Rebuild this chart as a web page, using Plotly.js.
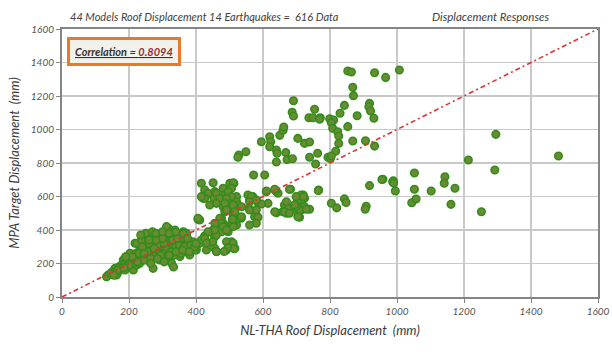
<!DOCTYPE html>
<html>
<head>
<meta charset="utf-8">
<script src="https://cdn.plot.ly/plotly-3.0.1.min.js"></script>
<style>html,body{margin:0;padding:0;background:#fff;}#chart{width:612px;height:354px;}</style>
</head>
<body>
<div id="chart"></div>
<script>
// NL-THA roof displacement (mm)
const nlthaX = [
853,864,933,966,1007,868,870,691,687,691,754,737,749,771,769,843,830,881,918,916,921,931,799,811,804,808,823,826,853,826,868,906,933,
704,724,739,763,739,794,801,817,804,757,668,672,688,650,660,662,595,620,623,620,640,642,640,528,525,549,572,605,
766,918,958,989,995,987,804,820,843,848,908,905,765,682,
1052,1052,1102,1143,1141,1173,1044,1057,1161,1252,1213,1292,1295,1482,955,990,
720,724,714,724,739,714,709,700,704,704,709,714,721,729,704,699,699,
521,555,570,560,585,580,575,615,640,659,664,670,694,679,674,670,664,679,
501,513,610,640,645,416,451,426,431,421,456,453,481,486,476,491,511,506,501,
481,486,491,521,525,565,560,558,595,610,638,635,585,580,560,535,511,509,521,511,
476,471,481,491,461,451,476,496,406,426,456,635,516,536,510,506,510,506,
436,461,496,506,471,491,426,441,461,486,491,511,516,536,580,580,560,
471,476,456,451,461,481,491,511,509,426,431,456,461,491,491,511,516,
496,514,461,484,444,391,426,450,456,416,
138,133,158,168,163,178,183,188,198,193,203,208,213,218,218,213,223,232,237,232,242,242,252,257,257,262,267,272,272,277,282,287,287,292,297,302,307,312,317,317,322,327,337,332,342,347,352,357,362,367,372,377,362,381,387,391,401,401,411,416,426,431,411,436,
327,333,396,372,362,357,312,337,223,237,406,
250,260,270,280,290,300,310,320,330,340,350,300,290,260,240,230,220,210,200,190,180,170,245,265,285,305,325,345,355,365,375,385,395,255,275,295,315,335,300,280,260,240,230,210,200,190,175,165,150,145,155,185,225,245,265,285,305,320,340,360,380,400,270,280,300,320,340,250,235,260
];
// MPA target displacement (mm)
const mpaY = [
1349,1343,1339,1311,1355,1252,1202,1172,1103,1081,1121,1070,1070,1070,1061,1144,1097,1082,1156,1136,1110,1067,1064,1057,1041,1007,987,961,1017,917,931,933,901,
947,917,925,858,834,834,826,870,842,794,862,820,825,965,995,1015,927,957,927,897,878,858,806,848,834,867,728,728,
639,665,703,693,633,688,560,532,586,564,542,524,635,643,
740,643,633,718,679,649,563,585,553,509,818,758,971,842,701,680,
609,589,559,539,524,519,476,520,579,539,519,609,599,524,479,599,539,
599,609,599,579,563,488,479,559,503,509,549,500,549,643,530,569,509,500,
679,679,629,629,619,679,682,639,609,589,629,589,649,609,579,563,682,649,579,
539,509,530,569,549,599,569,530,555,633,635,643,476,440,430,470,490,460,430,440,
470,430,440,420,400,380,390,390,464,360,360,509,500,479,460,430,300,330,
619,619,629,599,589,589,589,549,559,559,519,549,509,539,579,519,519,
470,440,440,400,370,420,400,420,464,340,281,291,271,330,281,321,291,
295,288,272,272,307,307,365,330,400,599,
131,121,171,151,131,191,221,161,201,241,261,181,221,241,321,161,191,201,261,281,291,350,321,281,241,211,360,300,171,241,330,281,360,221,310,380,251,340,410,281,221,300,370,261,330,281,241,321,390,271,291,321,350,251,291,330,300,281,321,340,350,321,460,390,
202,179,281,380,380,310,420,400,321,340,470,
300,320,260,250,270,300,290,330,340,300,310,260,320,270,250,230,260,200,230,210,190,180,220,230,310,320,270,350,260,300,350,310,300,270,290,250,240,250,350,340,350,300,260,240,190,240,170,160,150,140,130,175,210,260,200,230,210,250,270,280,270,320,390,380,390,380,390,380,370,340
];
// 1:1 reference line
const refX = [0, 1600];
const refY = [0, 1600];
const xTicks = [0,200,400,600,800,1000,1200,1400,1600];
const yTicks = [0,200,400,600,800,1000,1200,1400,1600];

const tickFont = {family:'Lato, "Open Sans", sans-serif', size:10, style:'italic', color:'#555555'};
const titleFont = {family:'Lato, "Open Sans", sans-serif', size:13, style:'italic', color:'#3a3a3a'};

const traces = [
  {x: nlthaX, y: mpaY, type:'scatter', mode:'markers', hoverinfo:'skip',
   marker:{size:7.5, color:'rgb(108,138,52)', line:{color:'rgb(50,142,26)', width:1.6}}},
  {x: refX, y: refY, type:'scatter', mode:'lines', hoverinfo:'skip',
   line:{color:'rgb(222,52,52)', width:1.6, dash:'5px,3px,2px,3px'}}
];

const axisCommon = {
  range:[0,1600], tickmode:'array', showline:true, mirror:true, linecolor:'#858585', linewidth:2,
  showgrid:true, gridcolor:'#c9c9c9', gridwidth:1.5, zeroline:false, ticks:'outside', ticklen:4,
  tickcolor:'#858585', tickfont:tickFont, automargin:false, fixedrange:true
};

const layout = {
  width:612, height:354, showlegend:false,
  paper_bgcolor:'#ffffff', plot_bgcolor:'#ffffff',
  margin:{l:62, r:14, t:29, b:57},
  xaxis: Object.assign({}, axisCommon, {tickvals:xTicks, ticktext:xTicks.map(String),
    title:{text:'NL-THA Roof Displacement  (mm)', font:titleFont, standoff:10}}),
  yaxis: Object.assign({}, axisCommon, {tickvals:yTicks, ticktext:yTicks.map(String),
    title:{text:'MPA Target Displacement  (mm)', font:titleFont, standoff:8}}),
  annotations:[
    {text:'44 Models Roof Displacement 14 Earthquakes =  616 Data', xref:'paper', yref:'paper',
     x:0.011, y:1.048, xanchor:'left', yanchor:'middle', showarrow:false,
     font:{family:'Lato, "Open Sans", sans-serif', size:11, style:'italic', color:'#404040'}},
    {text:'Displacement Responses', xref:'paper', yref:'paper',
     x:0.686, y:1.045, xanchor:'left', yanchor:'middle', showarrow:false,
     font:{family:'Lato, "Open Sans", sans-serif', size:11.5, style:'italic', color:'#404040'}},
    {text:'<b><i><u>Correlation = <span style="color:#9a2e2e">0.8094</span></u></i></b>', xref:'paper', yref:'paper',
     x:0.010, y:0.915, xanchor:'left', yanchor:'middle', showarrow:false,
     bgcolor:'#f2f2ec', bordercolor:'#e8792a', borderwidth:3, borderpad:5,
     font:{family:'Lato, "Open Sans", sans-serif', size:11, color:'#333333'}}
  ]
};

Plotly.newPlot('chart', traces, layout, {staticPlot:true, displayModeBar:false});
</script>
</body>
</html>
